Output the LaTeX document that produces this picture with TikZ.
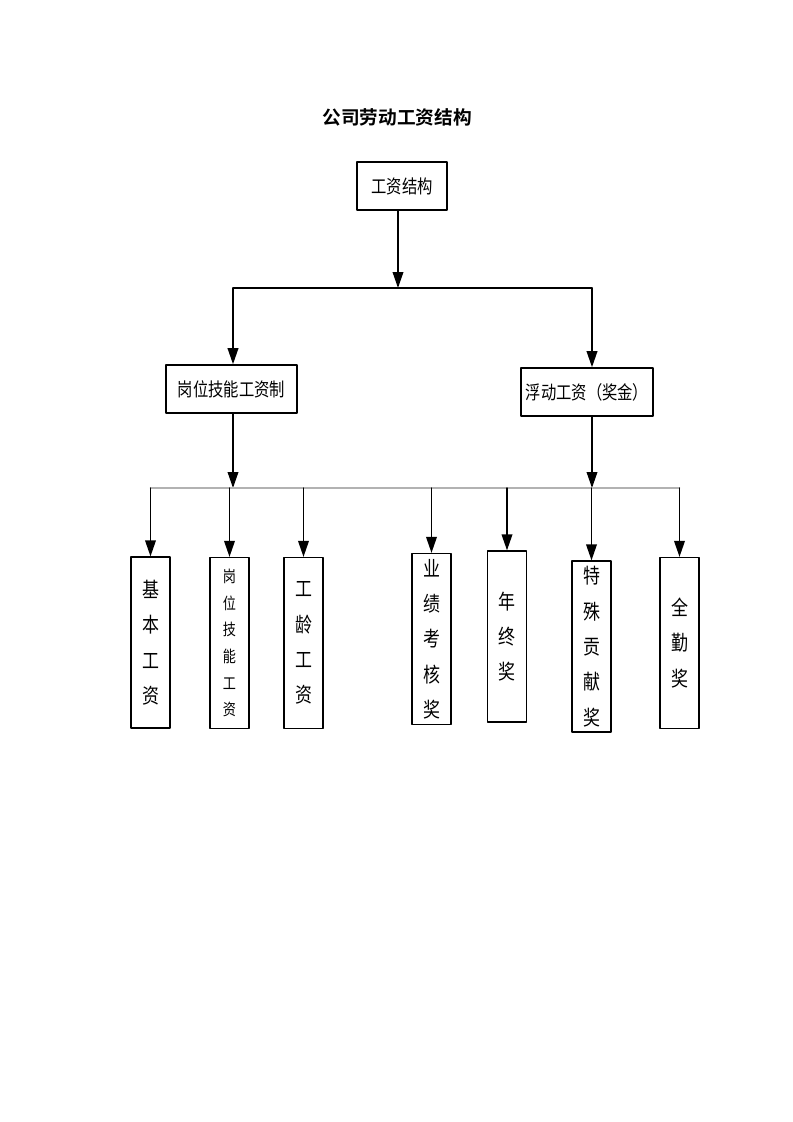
\documentclass[tikz,border=0pt]{standalone}
\usepackage{fontspec}
\usepackage{xcolor}
\usepackage{tikz}
\usetikzlibrary{positioning,arrows.meta}
\newfontfamily\cjk[FakeStretch=0.82]{Noto Sans CJK SC}
\newfontfamily\cjktitle{Noto Sans CJK SC Bold}

\tikzset{
    hbox/.style={draw, line width=1.2pt, inner sep=0pt, minimum width=98pt, minimum height=36pt,
        font=\cjk\fontsize{14}{16}\selectfont},
    vbox/.style={draw, line width=1.2pt, inner sep=0pt, minimum width=29.25pt, minimum height=128pt,
        align=center, font=\cjk\fontsize{15.5}{26.5}\selectfont},
    arr/.style={line width=1.1pt, -{Triangle[length=12pt,width=8pt]}}
}

\begin{document}
\begin{tikzpicture}[x=0.75pt, y=-0.75pt, line cap=round, line join=round]
        \useasboundingbox (0,0) rectangle (793,1122);

        % Title
        \node (title) at (397,117) {\cjktitle\fontsize{14}{16}\selectfont 公司劳动工资结构};

        % Top levels
        \node[hbox, minimum width=67.5pt] (gzjg) at (402,186) {工资结构};
        \node[hbox] (gwjn) at (231.5,389) {岗位技能工资制};
        \node[hbox, minimum width=99pt] (fdgz) at (587,392) {浮动工资（奖金）};

        % Define coordinates for bars
        \coordinate (barT) at (398,288);
        \coordinate (barL) at (233,288);
        \coordinate (barR) at (592,288);
        \coordinate (barB) at (0,488);

        % Bottom boxes
        \node[vbox] (jbgz) at (150.5,642.5) {基\\本\\工\\资};
        \node[vbox, font=\cjk\fontsize{12}{20}\selectfont] (gwgz) at (229.5,643) {岗\\位\\技\\能\\工\\资};
        \node[vbox] (glgz) at (303.5,643) {工\\龄\\工\\资};
        \node[vbox] (yjkh) at (431.5,639) {业\\绩\\考\\核\\奖};
        \node[vbox] (nzj) at (507,636.5) {年\\终\\奖};
        \node[vbox] (tsgx) at (591.5,646.5) {特\\殊\\贡\\献\\奖};
        \node[vbox] (qqj) at (679.5,643) {全\\勤\\奖};

        % Connect top box with upper bar
        \draw[arr] (barT |- gzjg.south) -- (barT);
        \draw[line width=1.1pt] (barL) -- (barR);
        \draw[arr] (barL) -- (barL |- gwjn.north);
        \draw[arr] (barR) -- (barR |- fdgz.north);

        % Connect middle boxes with lower bar
        \draw[arr] (barL |- gwjn.south) -- (barL |- barB);
        \draw[arr] (barR |- fdgz.south) -- (barR |- barB);
        \draw[gray!60, line width=1.2pt] (jbgz.north |- barB) -- (qqj.north |- barB);
        \foreach \b in {jbgz,gwgz,glgz,yjkh,nzj,tsgx,qqj}
            \draw[arr] (\b.north |- barB) -- (\b.north);
    \end{tikzpicture}
\end{document}
